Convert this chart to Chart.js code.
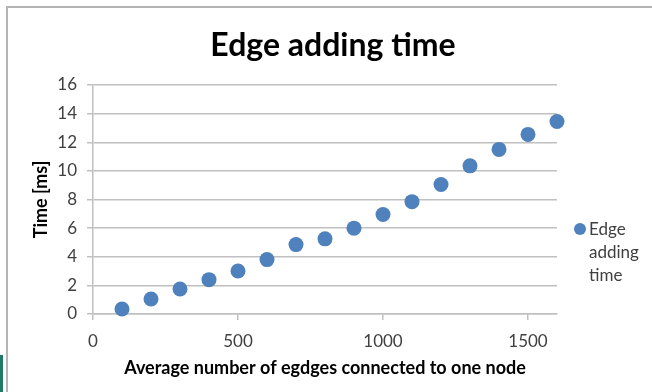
<!DOCTYPE html>
<html>
<head>
<meta charset="utf-8">
<script src="https://cdn.jsdelivr.net/npm/chart.js@4/dist/chart.umd.min.js"></script>
<style>
  html, body { margin: 0; padding: 0; background: #ffffff; }
  #wrap { position: relative; width: 652px; height: 392px; overflow: hidden; }
  #frame { position: absolute; left: 6px; top: 6px; width: 700px; height: 450px;
           border-left: 2px solid #b4b4b4; border-top: 2px solid #b4b4b4; box-sizing: border-box; }
  #strip { position: absolute; left: 0; top: 355px; width: 3px; height: 37px; background: #1d7b65; }
  canvas { position: absolute; left: 0; top: 0; }
</style>
</head>
<body>
<div id="wrap">
  <div id="frame"></div>
  <div id="strip"></div>
  <canvas id="chart" width="652" height="392"></canvas>
</div>
<script>
// Average number of edges per node vs. time to add an edge
const edgesPerNode = [100, 200, 300, 400, 500, 600, 700, 800, 900, 1000, 1100, 1200, 1300, 1400, 1500, 1600];
const addingTimeMs = [0.35, 1.05, 1.75, 2.4, 3.0, 3.8, 4.85, 5.25, 6.0, 6.95, 7.85, 9.05, 10.35, 11.5, 12.55, 13.45];
const xTickValues = [0, 500, 1000, 1500];
const yTickValues = [0, 2, 4, 6, 8, 10, 12, 14, 16];

const seriesName = 'Edge adding time';
const chartTitle = 'Edge adding time';
const xTitle = 'Average number of egdges connected to one node';
const yTitle = 'Time [ms]';

const FONT = 'Lato, "Open Sans", sans-serif';
const BLUE = '#4f81bd';
const GRID = '#c0c0c0';
const TEXT = '#404040';

const points = edgesPerNode.map((x, i) => ({ x: x, y: addingTimeMs[i] }));

// Title centred on the whole canvas (the legend column sits to the right of the plot)
const pageTitle = {
  id: 'pageTitle',
  afterDraw(chart) {
    const ctx = chart.ctx;
    ctx.save();
    ctx.fillStyle = '#000000';
    ctx.font = 'bold 32px ' + FONT;
    ctx.textAlign = 'center';
    ctx.textBaseline = 'middle';
    ctx.fillText(chartTitle, chart.width / 2 + 7, 46);
    ctx.restore();
  }
};

// Legend on the right, with the series name wrapped word by word
const sideLegend = {
  id: 'sideLegend',
  afterDraw(chart) {
    const ctx = chart.ctx;
    const ds = chart.data.datasets[0];
    const area = chart.chartArea;
    const words = ds.label.split(' ');
    const x0 = area.right + 23;
    const y0 = 229;
    const lh = 23;
    ctx.save();
    ctx.fillStyle = ds.backgroundColor;
    ctx.beginPath();
    ctx.arc(x0, y0, 6, 0, Math.PI * 2);
    ctx.fill();
    ctx.fillStyle = TEXT;
    ctx.font = '17px ' + FONT;
    ctx.textBaseline = 'middle';
    ctx.textAlign = 'left';
    words.forEach((w, i) => ctx.fillText(w, x0 + 9, y0 + 1 + i * lh));
    ctx.restore();
  }
};

new Chart(document.getElementById('chart'), {
  type: 'scatter',
  data: {
    datasets: [{
      label: seriesName,
      data: points,
      backgroundColor: BLUE,
      borderColor: BLUE,
      pointRadius: 7.5,
      pointHoverRadius: 7.5,
      borderWidth: 0,
      clip: false
    }]
  },
  options: {
    responsive: false,
    animation: false,
    events: [],
    layout: { padding: { left: 0, right: 95, top: 85, bottom: 0 } },
    plugins: {
      legend: { display: false },
      tooltip: { enabled: false },
      title: { display: false }
    },
    scales: {
      x: {
        type: 'linear',
        min: 0,
        max: 1600,
        afterBuildTicks(scale) {
          scale.ticks = xTickValues.map(v => ({ value: v }));
        },
        afterFit(scale) { scale.height = 78; },
        ticks: {
          color: TEXT,
          font: { family: FONT, size: 17 },
          padding: 11,
          maxRotation: 0,
          callback: v => String(v)
        },
        grid: { drawOnChartArea: false, drawTicks: true, tickLength: 6, color: GRID, lineWidth: 1.5 },
        border: { display: true, color: GRID, width: 1.5 },
        title: {
          display: true,
          text: xTitle,
          color: '#000000',
          font: { family: FONT, size: 18, weight: 'bold' },
          padding: { top: 0, bottom: 13 }
        }
      },
      y: {
        min: 0,
        max: 16,
        afterBuildTicks(scale) {
          scale.ticks = yTickValues.map(v => ({ value: v }));
        },
        afterFit(scale) { scale.width = 93; },
        ticks: {
          color: TEXT,
          font: { family: FONT, size: 17 },
          padding: 10,
          callback: v => String(v)
        },
        grid: { drawOnChartArea: true, drawTicks: true, tickLength: 6, color: GRID, lineWidth: 1.5 },
        border: { display: true, color: GRID, width: 1.5 },
        title: {
          display: true,
          text: yTitle,
          color: '#000000',
          font: { family: FONT, size: 18, weight: 'bold' },
          padding: { top: 30, bottom: 0 }
        }
      }
    }
  },
  plugins: [pageTitle, sideLegend]
});
</script>
</body>
</html>
